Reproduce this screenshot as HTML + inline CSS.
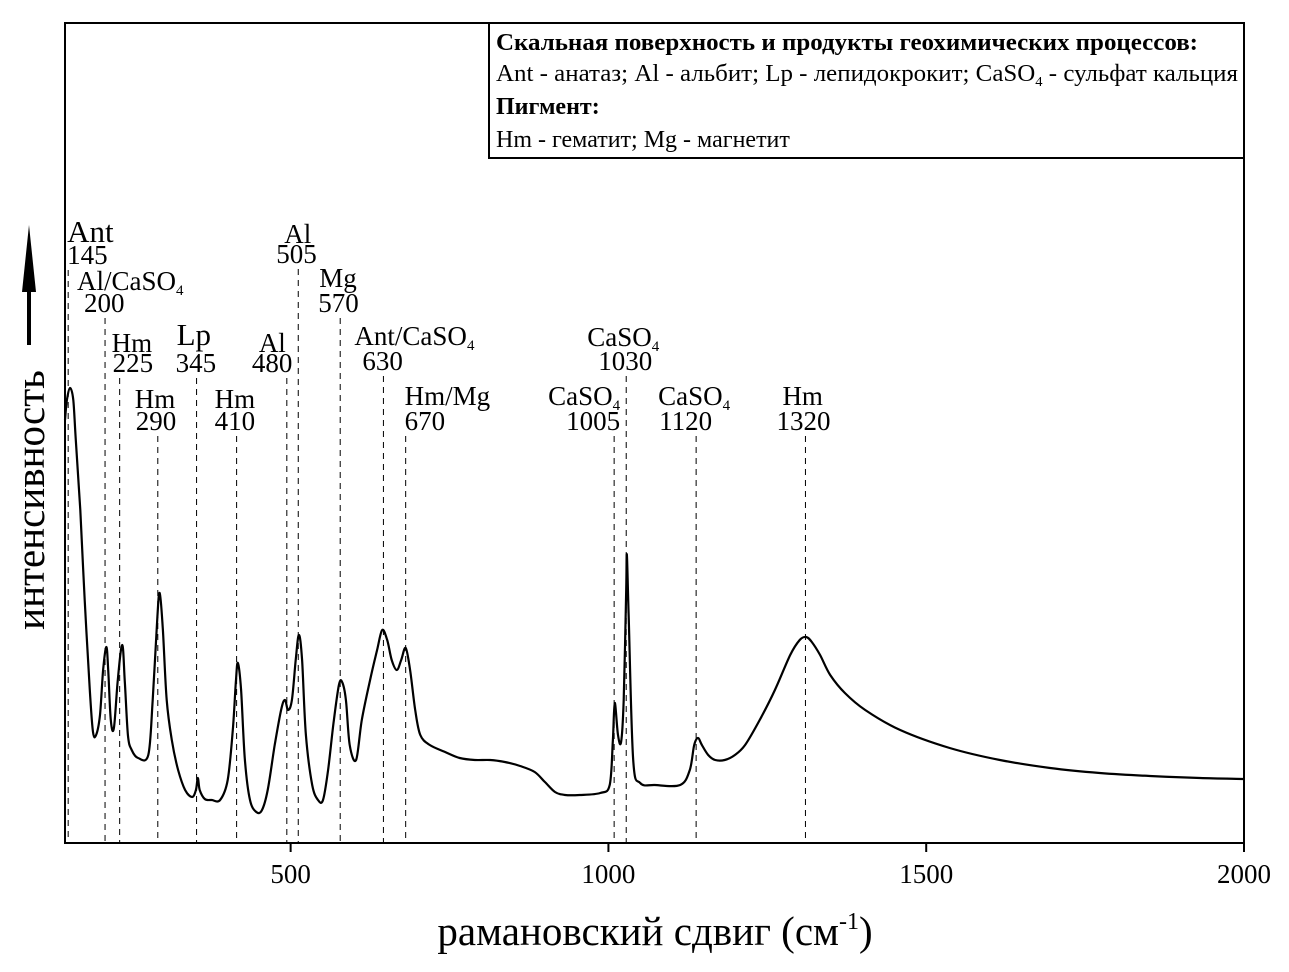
<!DOCTYPE html>
<html><head><meta charset="utf-8"><style>
body{margin:0;background:#fff}
svg{display:block;font-family:"Liberation Serif",serif}
</style></head><body>
<svg id="chart" width="1289" height="972" xmlns="http://www.w3.org/2000/svg">
<rect x="0" y="0" width="1289" height="972" fill="#fff"/>
<g id="annos"></g>
<path id="curve" fill="none" stroke="#000" stroke-width="2.2" stroke-linejoin="round"/>
<rect x="65" y="23" width="1179" height="820" fill="none" stroke="#000" stroke-width="2"/>
<g id="ticks"></g>
<g>
<rect x="489" y="23" width="755" height="135" fill="#fff" stroke="#000" stroke-width="2"/>
<text x="496" y="50" font-size="24" font-weight="bold" textLength="702" lengthAdjust="spacingAndGlyphs">Скальная поверхность и продукты геохимических процессов:</text>
<text x="496" y="81" font-size="24" textLength="742" lengthAdjust="spacingAndGlyphs">Ant - анатаз; Al - альбит; Lp - лепидокрокит; CaSO<tspan font-size="14" dy="5">4</tspan><tspan dy="-5"> - сульфат кальция</tspan></text>
<text x="496" y="114" font-size="24" font-weight="bold">Пигмент:</text>
<text x="496" y="147" font-size="24">Hm - гематит; Mg - магнетит</text>
</g>
<g>
<text transform="translate(44,500) rotate(-90)" text-anchor="middle" font-size="41">интенсивность</text>
<line x1="29" y1="345" x2="29" y2="280" stroke="#000" stroke-width="4"/>
<polygon points="29,225 22,292 36,292" fill="#000"/>
</g>
<text x="655" y="945" text-anchor="middle" font-size="41">рамановский сдвиг (см<tspan font-size="24" dy="-16">-1</tspan><tspan dy="16">)</tspan></text>
</svg>
<script>
const ramanShift=[145,148,153,158,162,169,176,184,189,194,200,205,210,213,217,222,228,235,239,244,250,260,276,283,290,294,299,305,313,323,334,345,351,354,357,365,376,389,401,409,414,417,422,428,436,446,455,464,475,485,491,496,502,508,513,518,524,534,543,551,559,568,576,581,587,593,603,612,625,636,644,652,659,667,674,681,688,696,704,719,743,766,790,814,837,861,884,900,916,932,955,987,1002,1007,1010,1015,1020,1024,1028,1029,1032,1039,1050,1073,1113,1128,1135,1141,1147,1157,1168,1183,1199,1215,1238,1262,1286,1301,1311,1320,1333,1349,1372,1404,1459,1537,1616,1695,1773,1852,1931,2000];
const intensity=[423,443,455,443,403,333,243,153,111,108,128,173,196,173,123,115,163,198,163,108,93,85,88,143,223,250,213,143,103,73,53,46,53,65,53,44,43,43,63,113,163,180,153,83,43,31,33,53,98,133,143,133,143,183,208,183,108,58,43,43,73,123,158,161,143,98,83,123,163,193,213,203,183,173,183,195,173,133,108,98,91,85,83,83,81,77,71,61,51,48,48,50,58,103,140,108,101,143,253,288,223,83,60,58,58,73,98,105,98,88,83,83,88,98,123,153,188,203,206,201,188,168,150,133,113,95,83,75,70,67,65,64];
const annoValue=[150,208,231,291,352,415,494,512,578,646,681,1009,1028,1138,1310];
const annoName=["Ant","Al/CaSO4","Hm","Hm","Lp","Hm","Al","Al","Mg","Ant/CaSO4","Hm/Mg","CaSO4","CaSO4","CaSO4","Hm"];
const annoNumber=["145","200","225","290","345","410","480","505","570","630","670","1005","1030","1120","1320"];
const xTicks=[500,1000,1500,2000];
const X0=145,X1=2000,PL=65,PR=1244,PB=843,PT=23;
const x=v=>PL+(v-X0)*(PR-PL)/(X1-X0);
const y=v=>PB-v*(PB-PT)/820;
const NS="http://www.w3.org/2000/svg";
const P=ramanShift.map((v,i)=>[x(v),y(intensity[i])]);
let d="M"+P[0][0].toFixed(1)+","+P[0][1].toFixed(1);
for(let i=0;i<P.length-1;i++){
 const p0=P[Math.max(0,i-1)],p1=P[i],p2=P[i+1],p3=P[Math.min(P.length-1,i+2)];
 const c1=[p1[0]+(p2[0]-p0[0])/6,p1[1]+(p2[1]-p0[1])/6];
 const c2=[p2[0]-(p3[0]-p1[0])/6,p2[1]-(p3[1]-p1[1])/6];
 d+="C"+c1[0].toFixed(1)+","+c1[1].toFixed(1)+" "+c2[0].toFixed(1)+","+c2[1].toFixed(1)+" "+p2[0].toFixed(1)+","+p2[1].toFixed(1);
}
document.getElementById('curve').setAttribute('d',d);
// label layout (pixels): name baseline, number baseline, name dx, number dx, name size
const lay=[[242,264,-1,-1,31],[290,312,-28,-21,27],[352,372,-8,-7,27],[408,430,-23,-22,27],[345,372,-20,-21,31],[408,430,-22,-22,27],[352,372,-28,-35,27],[243,263,-14,-22,27],[287,312,-21,-22,27],[345,370,-29,-21,27],[405,430,-1,-1,27],[405,430,-66,-48,27],[346,370,-39,-28,27],[405,430,-38,-37,27],[405,430,-23,-29,27]];
const g=document.getElementById('annos');
annoValue.forEach((v,i)=>{
 const px=x(v),L=lay[i];
 const ln=document.createElementNS(NS,'line');
 
 
 ln.setAttribute('x1',px);ln.setAttribute('x2',px);ln.setAttribute('y1',L[1]+6);ln.setAttribute('y2',PB);
 ln.setAttribute('stroke','#000');ln.setAttribute('stroke-width','1');ln.setAttribute('stroke-dasharray','6,5');
 g.appendChild(ln);
 const t=document.createElementNS(NS,'text');
 
 
 t.setAttribute('x',px+L[2]);t.setAttribute('y',L[0]);t.setAttribute('font-size',L[4]);
 const nm=annoName[i];
 if(nm.endsWith('SO4')){t.textContent=nm.slice(0,-1);const s=document.createElementNS(NS,'tspan');s.setAttribute('font-size','15');s.setAttribute('dy','5');s.textContent='4';t.appendChild(s);}
 else t.textContent=nm;
 g.appendChild(t);
 const n=document.createElementNS(NS,'text');
 
 
 n.setAttribute('x',px+L[3]);n.setAttribute('y',L[1]);n.setAttribute('font-size','27');
 n.textContent=annoNumber[i];g.appendChild(n);
});
const tg=document.getElementById('ticks');
xTicks.forEach(v=>{
 const l=document.createElementNS(NS,'line');
 
 
 l.setAttribute('x1',x(v));l.setAttribute('x2',x(v));l.setAttribute('y1',PB);l.setAttribute('y2',PB+9);
 l.setAttribute('stroke','#000');l.setAttribute('stroke-width','2');tg.appendChild(l);
 const t=document.createElementNS(NS,'text');
 
 
 t.setAttribute('x',x(v));t.setAttribute('y',883);t.setAttribute('text-anchor','middle');t.setAttribute('font-size','27');
 t.textContent=v;tg.appendChild(t);
});
</script>
</body></html>
